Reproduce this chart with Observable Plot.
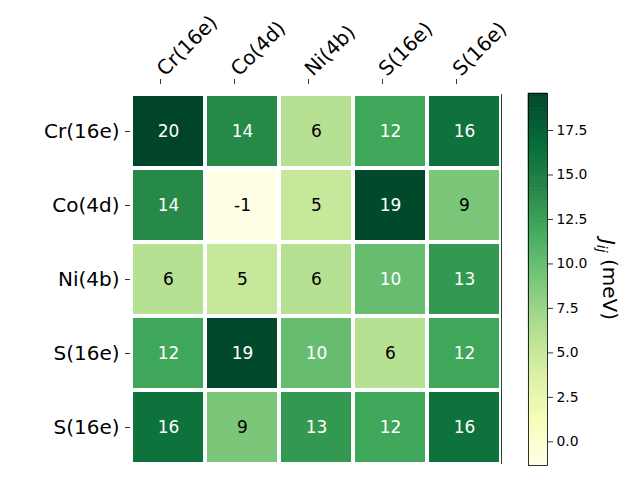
<!DOCTYPE html>
<html><head><meta charset="utf-8">
<script src="https://cdn.jsdelivr.net/npm/d3@7"></script>
<script src="https://cdn.jsdelivr.net/npm/@observablehq/plot@0.6"></script>
<style>
body{margin:0;background:white;}
#wrap{position:relative;width:640px;height:480px;font-family:"DejaVu Sans";}
#wrap svg{position:absolute;left:0;top:0;}
</style>
</head><body><div id="wrap"></div>
<script>
const rowLabels = ["Cr(16e)", "Co(4d)", "Ni(4b)", "S(16e)", "S(16e)"];
const colLabels = ["Cr(16e)", "Co(4d)", "Ni(4b)", "S(16e)", "S(16e)"];
const values = [
  [19.58, 14, 6, 12, 16],
  [14, -1.33, 5, 19.3, 9],
  [6, 5, 6, 10, 13],
  [12, 19.3, 10, 6, 12],
  [16, 9, 13, 12, 16]
];
const cbarTicks = [0, 2.5, 5, 7.5, 10, 12.5, 15, 17.5];
const ylgn = ["#ffffe5","#f7fcb9","#d9f0a3","#addd8e","#78c679","#41ab5d","#238443","#006837","#004529"];
const colorbarLabel = "J_ij (meV)";

const flat = values.flat();
const lo = d3.min(flat), hi = d3.max(flat);
const colorScale = {type: "linear", domain: ylgn.map((_, i) => lo + i * (hi - lo) / 8), range: ylgn, interpolate: "rgb"};

const cells = [];
values.forEach((row, i) => row.forEach((v, j) => cells.push({r: i, c: j, v})));
const fmt = v => String(Math.round(v));

const main = Plot.plot({
  width: 640, height: 480,
  marginLeft: 130, marginRight: 139, marginTop: 93, marginBottom: 15,
  style: {background: "transparent", fontFamily: "DejaVu Sans", color: "black"},
  x: {type: "band", domain: d3.range(5), padding: 0, axis: null, label: null},
  y: {type: "band", domain: d3.range(5), padding: 0, axis: null, label: null},
  color: colorScale,
  marks: [
    Plot.cell(cells, {x: "c", y: "r", fill: "v", inset: 2}),
    Plot.text(cells.filter(d => d.v > 9.5), {x: "c", y: "r", text: d => fmt(d.v), fill: "white", fontSize: 17}),
    Plot.text(cells.filter(d => d.v <= 9.5), {x: "c", y: "r", text: d => fmt(d.v), fill: "black", fontSize: 17}),
    Plot.ruleX([4], {x: d => d, dx: 37, y1: 0, y2: 4, stroke: "#1a4d2e", strokeWidth: 1}),
    Plot.axisX({anchor: "top", label: null, tickFormat: i => colLabels[i], tickRotate: -45, tickSize: 5, tickPadding: 6, textAnchor: "start", dx: -8, dy: -10, fontSize: 20, strokeWidth: 0.8}),
    Plot.axisY({anchor: "left", label: null, tickFormat: i => rowLabels[i], tickSize: 5, tickPadding: 6, fontSize: 20, strokeWidth: 0.8})
  ]
});

const N = 200;
const steps = d3.range(N).map(i => ({y1: lo + (hi - lo) * i / N, y2: lo + (hi - lo) * (i + 1) / N}));
const cb = Plot.plot({
  width: 640, height: 480,
  marginLeft: 528, marginRight: 93, marginTop: 93, marginBottom: 15,
  style: {background: "transparent", fontFamily: "DejaVu Sans", color: "black"},
  x: {domain: [0, 1], axis: null},
  y: {domain: [lo, hi], axis: null},
  color: colorScale,
  marks: [
    Plot.rect(steps, {x1: 0, x2: 1, y1: "y1", y2: "y2", fill: d => (d.y1 + d.y2) / 2, stroke: d => (d.y1 + d.y2) / 2, strokeWidth: 0.6}),
    Plot.frame({stroke: "black", strokeWidth: 0.8}),
    Plot.axisY({anchor: "right", label: null, ticks: cbarTicks, tickFormat: ".1f", tickSize: 5, tickPadding: 4, fontSize: 13.9, strokeWidth: 0.8}),
    Plot.text([colorbarLabel], {frameAnchor: "right", dx: 60, rotate: 90, textAnchor: "middle", text: d => d, fontSize: 20, className: "cblabel"})
  ]
});

const wrap = document.getElementById("wrap");
wrap.appendChild(main);
wrap.appendChild(cb);

// rich formatting for the colorbar label: italic J with subscript ij
d3.select(cb).selectAll(".cblabel text").each(function() {
  const t = d3.select(this);
  t.text(null);
  t.append("tspan").attr("font-style", "italic").text("J");
  t.append("tspan").attr("font-size", "0.7em").attr("font-style", "italic").attr("dy", "0.3em").text("ij");
  t.append("tspan").attr("dy", "-0.3em").text(" (meV)");
});
</script>
</body></html>
